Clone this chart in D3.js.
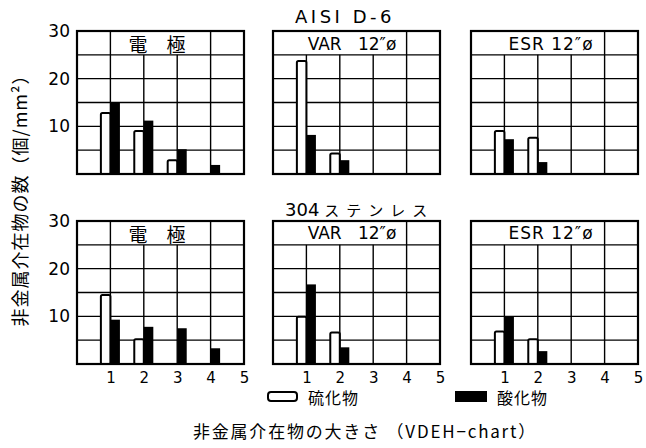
<!DOCTYPE html>
<html>
<head>
<meta charset="utf-8">
<script src="https://cdn.jsdelivr.net/npm/d3@7"></script>
<style>
  body { margin: 0; background: #fff; }
  text { fill: #000; }
  .num { font-family: "DejaVu Sans", sans-serif; }
  .jp { font-family: "Noto Sans CJK JP", sans-serif; }
</style>
</head>
<body>
<svg id="chart" width="646" height="448"></svg>
<script>
// inclusion size classes (VDEH chart)
var sizes = [1, 2, 3, 4];
var sizeTicks = [1, 2, 3, 4, 5];
var yTicks = [10, 20, 30];
var steels = ["AISI D-6", "304"];
var processes = ["電　極", "VAR   12″ø", "ESR 12″ø"];

// counts per mm2, one row per process (electrode, VAR, ESR)
var d6Sulfide = [[12.8, 9.0, 2.9, 0], [23.7, 4.3, 0, 0], [9.0, 7.6, 0, 0]];
var d6Oxide = [[14.9, 11.2, 5.2, 1.9], [8.2, 2.9, 0, 0], [7.3, 2.5, 0, 0]];
var s304Sulfide = [[14.5, 5.2, 0, 0], [9.9, 6.6, 0, 0], [6.8, 5.2, 0, 0]];
var s304Oxide = [[9.3, 7.8, 7.5, 3.3], [16.7, 3.5, 0, 0], [9.9, 2.7, 0, 0]];

var sulfide = [d6Sulfide, s304Sulfide];
var oxide = [d6Oxide, s304Oxide];

var svg = d3.select("#chart");

var panel = {width: 167, height: 143};
var colX = [77, 273, 471];
var rowY = [31, 221];
// columns of the top band that hold the panel title (no grid lines there)
var titleSpan = [[1, 4], [0, 4], [0, 4]];
var titleX = [157, 352, 551];

var xScale = d3.scaleLinear().domain([0, 5]).range([0, panel.width]);
var yScale = d3.scaleLinear().domain([0, 30]).range([panel.height, 0]);
var barW = xScale(0.285) - xScale(0);

steels.forEach(function(steel, r) {
  processes.forEach(function(proc, c) {
    var g = svg.append("g")
      .attr("transform", "translate(" + colX[c] + "," + rowY[r] + ")");

    // horizontal grid
    g.selectAll(".hg")
      .data([5, 10, 15, 20, 25])
      .enter().append("line")
      .attr("x1", 0).attr("x2", panel.width)
      .attr("y1", function(d) { return yScale(d); })
      .attr("y2", function(d) { return yScale(d); })
      .attr("stroke", "#000").attr("stroke-width", 1.4);

    // vertical grid, cut off under the title
    g.selectAll(".vg")
      .data(sizes)
      .enter().append("line")
      .attr("x1", function(d) { return xScale(d); })
      .attr("x2", function(d) { return xScale(d); })
      .attr("y1", function(d) {
        return (d > titleSpan[c][0] && d < titleSpan[c][1]) ? yScale(25) : 0;
      })
      .attr("y2", panel.height)
      .attr("stroke", "#000").attr("stroke-width", 1.4);

    // sulfide bars (open)
    g.selectAll(".sb")
      .data(sulfide[r][c].map(function(v, i) { return {size: sizes[i], v: v}; })
        .filter(function(d) { return d.v > 0; }))
      .enter().append("rect")
      .attr("x", function(d) { return xScale(d.size) - barW; })
      .attr("y", function(d) { return yScale(d.v); })
      .attr("width", barW)
      .attr("height", function(d) { return panel.height - yScale(d.v); })
      .attr("rx", 1.5)
      .attr("fill", "#fff").attr("stroke", "#000").attr("stroke-width", 2);

    // oxide bars (filled)
    g.selectAll(".ob")
      .data(oxide[r][c].map(function(v, i) { return {size: sizes[i], v: v}; })
        .filter(function(d) { return d.v > 0; }))
      .enter().append("rect")
      .attr("x", function(d) { return xScale(d.size); })
      .attr("y", function(d) { return yScale(d.v); })
      .attr("width", barW)
      .attr("height", function(d) { return panel.height - yScale(d.v); })
      .attr("fill", "#000");

    // frame
    g.append("rect")
      .attr("width", panel.width).attr("height", panel.height)
      .attr("fill", "none").attr("stroke", "#000").attr("stroke-width", 2.2);

    // process name
    g.append("text")
      .attr("class", c == 0 ? "jp" : "num")
      .attr("x", titleX[c] - colX[c])
      .attr("y", c == 0 ? 21 : 19 - r)
      .attr("text-anchor", "middle")
      .style("font-size", c == 0 ? "19px" : "17px")
      .style("letter-spacing", c == 2 ? "1px" : "0px")
      .style("white-space", "pre")
      .text(proc);

    if (c == 0) {
      var yAxis = d3.axisLeft(yScale).tickValues(yTicks).tickSize(0).tickPadding(7);
      var ya = g.append("g").call(yAxis);
      ya.select(".domain").remove();
      ya.selectAll("text").attr("class", "num").style("font-size", "17px").attr("fill", "#000");
    }
    if (r == 1) {
      var xAxis = d3.axisBottom(xScale).tickValues(sizeTicks).tickSize(0).tickPadding(8)
        .tickFormat(d3.format("d"));
      var xa = g.append("g").attr("transform", "translate(0," + panel.height + ")").call(xAxis);
      xa.select(".domain").remove();
      xa.selectAll("text").attr("class", "num").style("font-size", "15px").attr("fill", "#000");
    }
  });
});

// steel titles
svg.append("text")
  .attr("class", "num")
  .attr("x", 345).attr("y", 23)
  .attr("text-anchor", "middle")
  .style("font-size", "18px")
  .style("letter-spacing", "3.5px")
  .text(steels[0]);

var t304 = svg.append("text")
  .attr("x", 285).attr("y", 216);
t304.append("tspan").attr("class", "num").style("font-size", "18px").text(steels[1]);
t304.append("tspan").attr("class", "jp").attr("dx", 5)
  .style("font-size", "15px").style("letter-spacing", "7px").text("ステンレス");

// y-axis title
svg.append("text")
  .attr("class", "jp")
  .attr("transform", "translate(19,196) rotate(-90)")
  .attr("text-anchor", "middle")
  .attr("dominant-baseline", "central")
  .style("font-size", "18px")
  .style("letter-spacing", "1px")
  .text("非金属介在物の数（個/mm²）");

// legend
svg.append("rect")
  .attr("x", 268).attr("y", 392).attr("width", 29).attr("height", 9).attr("rx", 3)
  .attr("fill", "#fff").attr("stroke", "#000").attr("stroke-width", 2);
svg.append("text").attr("class", "jp")
  .attr("x", 308).attr("y", 404).style("font-size", "16px").style("letter-spacing", "1px").text("硫化物");
svg.append("rect")
  .attr("x", 455).attr("y", 391).attr("width", 32).attr("height", 11)
  .attr("fill", "#000");
svg.append("text").attr("class", "jp")
  .attr("x", 497).attr("y", 404).style("font-size", "16px").style("letter-spacing", "1px").text("酸化物");

// x-axis title
svg.append("text").attr("class", "jp")
  .attr("x", 365).attr("y", 438)
  .attr("text-anchor", "middle")
  .style("font-size", "17px")
  .style("letter-spacing", "1.8px")
  .style("white-space", "pre")
  .text("非金属介在物の大きさ （VDEH−chart）");
</script>
</body>
</html>
